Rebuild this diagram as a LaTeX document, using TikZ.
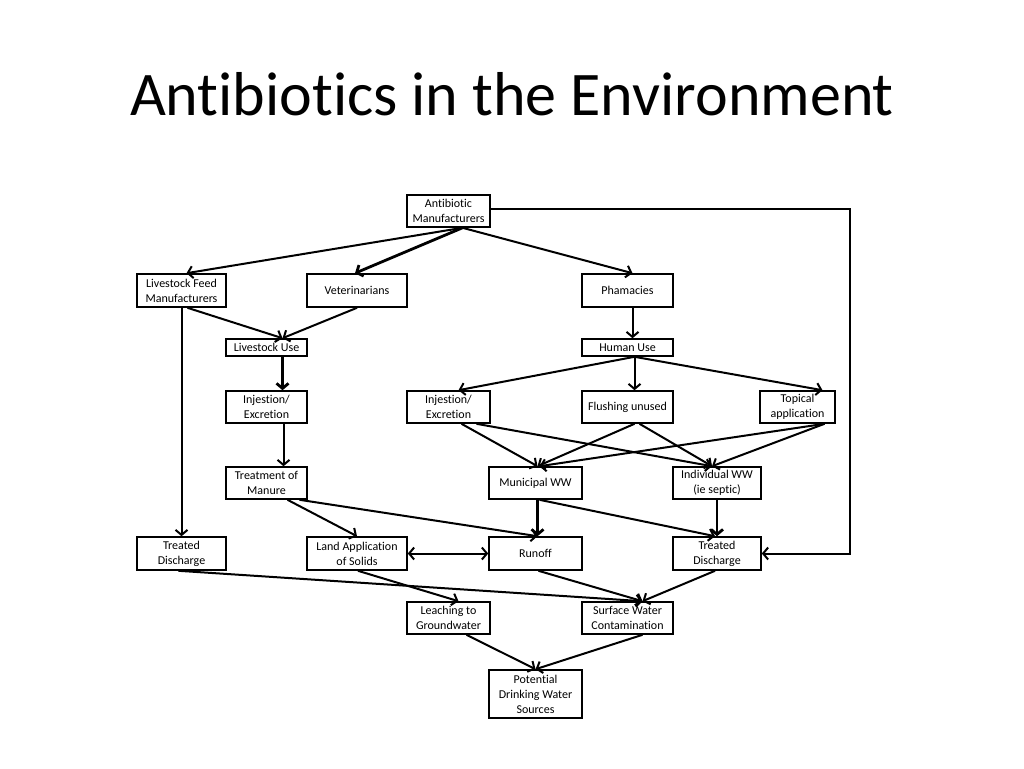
\documentclass[tikz,border=0pt]{standalone}
\usepackage{fontspec}
\setmainfont{Carlito}[RawFeature={-liga;-clig;-dlig;-calt}]
\usetikzlibrary{arrows.meta,calc}

\tikzset{
  box/.style={draw,line width=1.6pt,inner sep=0pt,align=center,
    font=\fontsize{12}{15}\selectfont},
  flow/.style={-{Straight Barb[length=5pt,width=12pt]},line width=2pt},
  heavy/.style={flow,line width=2.8pt},
  both/.style={{Straight Barb[length=5pt,width=12pt]}-{Straight Barb[length=5pt,width=12pt]},line width=2pt}
}

\begin{document}
\begin{tikzpicture}[x=1pt,y=-1pt]
  \useasboundingbox (0,0) rectangle (1024,768);

  \node[anchor=base,font=\fontsize{62}{70}\selectfont] (title) at (512,115) {Antibiotics in the Environment};

  % sources
  \node[box,minimum width=83pt,minimum height=32pt] (am) at (448.5,211) {Antibiotic\\Manufacturers};
  \node[box,minimum width=89pt,minimum height=33pt] (lfm) at (181.5,290.5) {Livestock Feed\\Manufacturers};
  \node[box,minimum width=100pt,minimum height=33pt] (vet) at (357,290.5) {Veterinarians};
  \node[box,minimum width=91pt,minimum height=33pt] (pha) at (627.5,290.5) {Phamacies};

  % use
  \node[box,minimum width=81pt,minimum height=17pt] (lu) at (266.5,347.5) {Livestock Use};
  \node[box,minimum width=91pt,minimum height=17pt] (hu) at (627.5,347.5) {Human Use};
  \node[box,minimum width=81pt,minimum height=32pt] (injl) at (266.5,407) {Injestion/\\Excretion};
  \node[box,minimum width=83pt,minimum height=32pt] (injr) at (448.5,407) {Injestion/\\Excretion};
  \node[box,minimum width=91pt,minimum height=32pt] (fl) at (627.5,407) {Flushing unused};
  \node[box,minimum width=75pt,minimum height=32pt] (tp) at (797.5,407) {Topical\\application};

  % treatment
  \node[box,minimum width=81pt,minimum height=32pt] (tm) at (266.5,483) {Treatment of\\Manure};
  \node[box,minimum width=93pt,minimum height=32pt] (mw) at (535.5,483) {Municipal WW};
  \node[box,minimum width=88pt,minimum height=32pt] (iw) at (717,483) {Individual WW\\(ie septic)};

  % release
  \node[box,minimum width=89pt,minimum height=33pt] (tdl) at (181.5,553.5) {Treated\\Discharge};
  \node[box,minimum width=100pt,minimum height=33pt] (la) at (357,553.5) {Land Application\\of Solids};
  \node[box,minimum width=93pt,minimum height=33pt] (ro) at (535.5,553.5) {Runoff};
  \node[box,minimum width=88pt,minimum height=33pt] (tdr) at (717,553.5) {Treated\\Discharge};
  \node[box,minimum width=83pt,minimum height=32pt] (lg) at (448.5,618) {Leaching to\\Groundwater};
  \node[box,minimum width=91pt,minimum height=32pt] (swc) at (627.5,618) {Surface Water\\Contamination};
  \node[box,minimum width=93pt,minimum height=48pt] (pd) at (535.5,694) {Potential\\Drinking Water\\Sources};

  \coordinate (rt) at (850,209);

  % from manufacturers
  \draw[flow] ($(am.south)+(14,0)$) -- ($(lfm.north)+(5,0)$);
  \draw[heavy] ($(am.south)+(14,0)$) -- ($(vet.north)+(-2,0)$);
  \draw[flow] ($(am.south)+(14,0)$) -- ($(pha.north)+(5,0)$);
  \draw[flow] (am.east |- rt) -- (rt) |- (tdr.east);

  % livestock side
  \draw[flow] ($(lfm.south)+(6,0)$) -- ($(lu.north)+(16,0)$);
  \draw[flow] (vet.south) -- ($(lu.north)+(16,0)$);
  \draw[flow] (lfm.south) -- (tdl.north);
  \draw[heavy] ($(lu.south)+(16,0)$) -- ($(injl.north)+(16,0)$);
  \draw[flow] ($(injl.south)+(17,0)$) -- ($(tm.north)+(17,0)$);
  \draw[flow] ($(tm.south)+(21,0)$) -- (la.north);
  \draw[flow] ($(tm.south)+(33,0)$) -- ($(ro.north)+(2,0)$);
  \draw[both] (la.east) -- (ro.west);
  \draw[flow] ($(la.south)+(1,0)$) -- ($(lg.north)+(10,0)$);
  \draw[flow] ($(tdl.south)+(-3,0)$) -- ($(swc.north)+(15,0)$);

  % human side
  \draw[flow] ($(pha.south)+(5,0)$) -- ($(hu.north)+(5,0)$);
  \draw[flow] ($(hu.south)+(7,0)$) -- ($(injr.north)+(10,0)$);
  \draw[flow] ($(hu.south)+(7,0)$) -- ($(fl.north)+(7,0)$);
  \draw[flow] ($(hu.south)+(7,0)$) -- ($(tp.north)+(25,0)$);
  \draw[flow] ($(injr.south)+(13,0)$) -- ($(mw.north)+(2,0)$);
  \draw[flow] ($(injr.south)+(28,0)$) -- ($(iw.north)+(-5,0)$);
  \draw[flow] ($(fl.south)+(7,0)$) -- ($(mw.north)+(2,0)$);
  \draw[flow] ($(fl.south)+(12,0)$) -- ($(iw.north)+(-5,0)$);
  \draw[flow] ($(tp.south)+(27,0)$) -- ($(mw.north)+(4,0)$);
  \draw[flow] ($(tp.south)+(27,0)$) -- ($(iw.north)+(-5,0)$);
  \draw[heavy] ($(mw.south)+(2,0)$) -- ($(ro.north)+(2,0)$);
  \draw[flow] ($(mw.south)+(4,0)$) -- ($(tdr.north)+(-2,0)$);
  \draw[heavy] (iw.south) -- (tdr.north);

  % to water
  \draw[flow] ($(ro.south)+(3,0)$) -- ($(swc.north)+(15,0)$);
  \draw[flow] ($(tdr.south)+(-2,0)$) -- ($(swc.north)+(15,0)$);
  \draw[flow] ($(lg.south)+(18,0)$) -- (pd.north);
  \draw[flow] ($(swc.south)+(15,0)$) -- (pd.north);
\end{tikzpicture}
\end{document}
